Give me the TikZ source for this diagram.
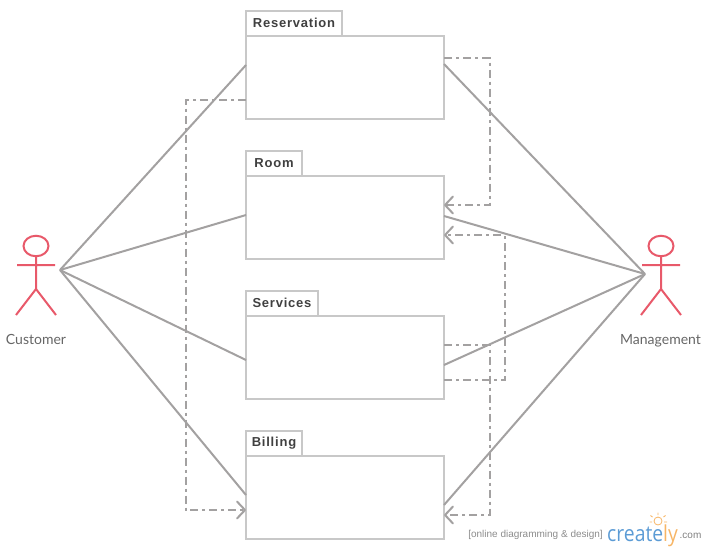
\documentclass[tikz,border=0pt]{standalone}
\usepackage{fontspec}
\setmainfont{Lato}
\newfontfamily\pkgfont[LetterSpace=6]{Liberation Sans}
\newfontfamily\logofont{Open Sans}
\newfontfamily\tagfont{Liberation Sans}
\usetikzlibrary{arrows.meta,calc}
\definecolor{boxgray}{HTML}{C8C8C8}
\definecolor{linegray}{HTML}{A3A1A1}
\definecolor{actorred}{HTML}{E8596A}
\definecolor{txtgray}{HTML}{666666}
\definecolor{logoblue}{HTML}{5B9BD5}
\definecolor{logoorange}{HTML}{F7B565}
\tikzset{
  x=1pt,y=-1pt,
  pkgbody/.style={draw=boxgray,line width=2pt,minimum width=198pt,minimum height=83pt,inner sep=0pt,outer sep=0pt},
  pkgtab/.style={draw=boxgray,line width=2pt,minimum height=25pt,inner sep=0pt,outer sep=0pt,anchor=south west,
    font=\pkgfont\bfseries\fontsize{13}{15}\selectfont,text=black!75},
  assoc/.style={draw=linegray,line width=2pt},
  dep/.style={draw=linegray,line width=2pt,dash pattern=on 8pt off 4pt on 3pt off 4pt,
    -{Straight Barb[length=8pt,width=17pt,line width=2pt,round]}},
  actor/.style={draw=actorred,line width=2pt},
  actorlabel/.style={font=\fontsize{14}{16}\selectfont,text=txtgray,anchor=base},
}
\begin{document}
\begin{tikzpicture}
\useasboundingbox (0,0) rectangle (706,550);
% packages
\node[pkgbody] (res) at (345,77.5) {};
\node[pkgbody] (room) at (345,217.5) {};
\node[pkgbody] (serv) at (345,357.5) {};
\node[pkgbody] (bill) at (345,497.5) {};
\node[pkgtab,minimum width=96pt] (restab) at (res.north west) {\raisebox{1pt}{Reservation}};
\node[pkgtab,minimum width=56pt] (roomtab) at (room.north west) {\raisebox{1pt}{Room}};
\node[pkgtab,minimum width=72pt] (servtab) at (serv.north west) {\raisebox{1pt}{Services}};
\node[pkgtab,minimum width=56pt] (billtab) at (bill.north west) {\raisebox{1pt}{Billing}};
% actors
\coordinate (cust) at (60,270);
\coordinate (mgmt) at (645,274);
\node[actor,circle,minimum size=25pt,inner sep=0pt,yscale=0.82] (custhead) at (36,246) {};
\node[actor,circle,minimum size=25pt,inner sep=0pt,yscale=0.82] (mgmthead) at (661,246) {};
\coordinate (custhip) at (36,289);
\coordinate (mgmthip) at (661,289);
\draw[actor] (custhead.south) -- (custhip) (17,265) -- (55,265) (16,315) -- (custhip) -- (56,315);
\draw[actor] (mgmthead.south) -- (mgmthip) (642,265) -- (680,265) (641,315) -- (mgmthip) -- (681,315);
\node[actorlabel] (custlabel) at (36,344) {Customer};
\node[actorlabel] (mgmtlabel) at (660.5,344) {Management};
% associations
\draw[assoc] (cust) -- ($(res.west)+(0,-12.5)$);
\draw[assoc] (cust) -- ($(room.west)+(0,-2.5)$);
\draw[assoc] (cust) -- ($(serv.west)+(0,2.5)$);
\draw[assoc] (cust) -- ($(bill.west)+(0,-2.5)$);
\draw[assoc] (mgmt) -- ($(res.east)+(0,-13.5)$);
\draw[assoc] (mgmt) -- ($(room.east)+(0,-1.5)$);
\draw[assoc] (mgmt) -- ($(serv.east)+(0,7.5)$);
\draw[assoc] (mgmt) -- ($(bill.east)+(0,7.5)$);
% dependencies
\draw[dep] ($(res.east)+(0,-19.5)$) -- ++(45.5,0) -- ++(0,147) -- ($(room.east)+(0,-12.5)$);
\draw[dep] ($(serv.east)+(0,22.5)$) -- ++(60.5,0) -- ++(0,-145) -- ($(room.east)+(0,17.5)$);
\draw[dep] ($(serv.east)+(0,-12.5)$) -- ++(45.5,0) -- ++(0,170) -- ($(bill.east)+(0,17.5)$);
\draw[dep] ($(res.west)+(0,22.5)$) -- ++(-60.5,0) -- ++(0,410) -- ($(bill.west)+(0,12.5)$);
% logo
\node[anchor=east,font=\tagfont\fontsize{10}{12}\selectfont,text=black!45,inner sep=0pt] (tag) at (603,535) {[online diagramming \& design]};
\node[anchor=base west,font=\logofont\fontsize{22}{24}\selectfont,text=logoblue,inner sep=0pt,xscale=0.88] (logo) at (607,541) {create\textcolor{logoorange}{ly}};
\node[anchor=base west,font=\tagfont\fontsize{10}{12}\selectfont,text=black!50,inner sep=0pt] (dotcom) at (679.5,538) {.com};
\draw[logoorange,line width=0.8pt] (658,521) circle[radius=4];
\draw[logoorange,line width=0.9pt] (658,515)--(658,512.5) (652.5,517)--(650.5,515.5) (663.5,517)--(665.5,515.5) (649.5,522)--(652,522) (664,522)--(667,522);
\end{tikzpicture}
\end{document}
